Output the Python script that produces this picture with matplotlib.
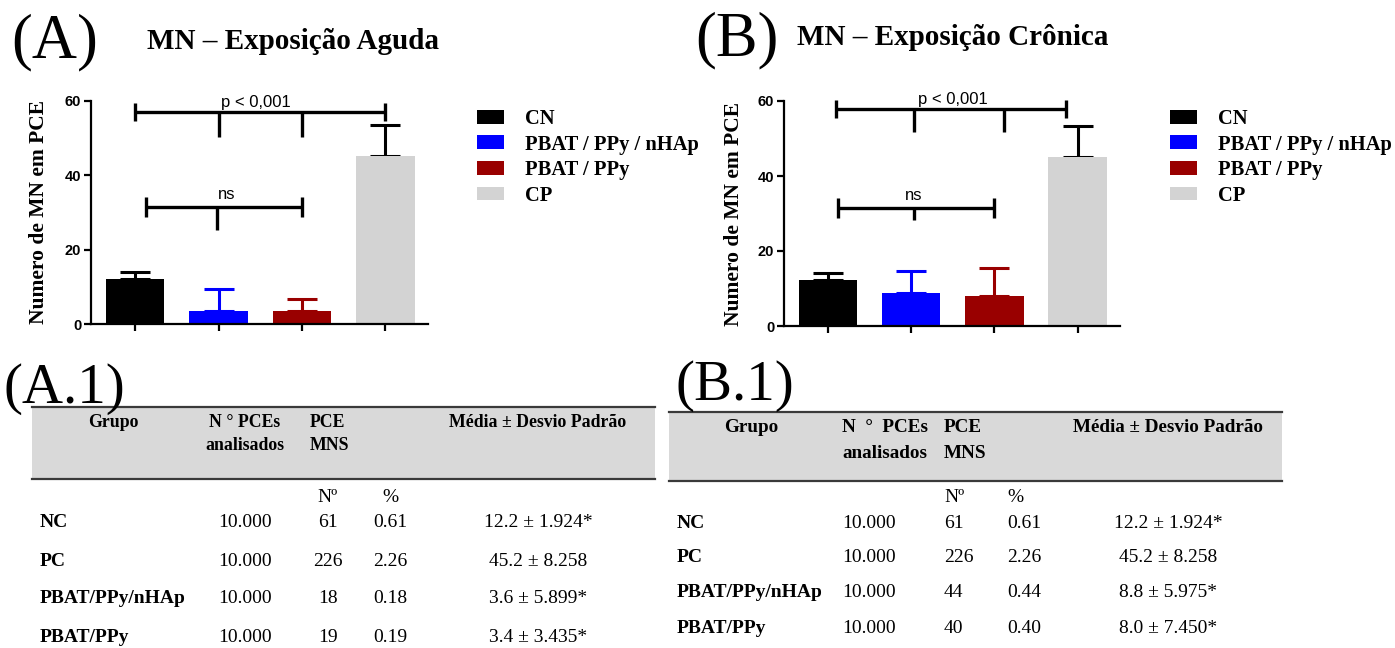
import matplotlib
matplotlib.use("Agg")
import matplotlib.pyplot as plt
from matplotlib.patches import Rectangle
from matplotlib.lines import Line2D
import numpy as np

# ---------------- data ----------------
bar_labels = ["CN", "PBAT / PPy / nHAp", "PBAT / PPy", "CP"]
bar_colors = ["#000000", "#0000FF", "#990000", "#D3D3D3"]
err_colors = ["#000000", "#0000FF", "#990000", "#000000"]

acute_means = [12.2, 3.6, 3.4, 45.2]
acute_sd = [1.924, 5.899, 3.435, 8.258]
chronic_means = [12.2, 8.8, 8.0, 45.2]
chronic_sd = [1.924, 5.975, 7.450, 8.258]

table_groups = ["NC", "PC", "PBAT/PPy/nHAp", "PBAT/PPy"]
table_n = ["10.000", "10.000", "10.000", "10.000"]
acute_counts = [61, 226, 18, 19]
acute_pct = ["0.61", "2.26", "0.18", "0.19"]
acute_tmean = [12.2, 45.2, 3.6, 3.4]
acute_tsd = [1.924, 8.258, 5.899, 3.435]
chronic_counts = [61, 226, 44, 40]
chronic_pct = ["0.61", "2.26", "0.44", "0.40"]
chronic_tmean = [12.2, 45.2, 8.8, 8.0]
chronic_tsd = [1.924, 8.258, 5.975, 7.450]
star = [True, False, True, True]

W, H = 1395, 648
fig = plt.figure(figsize=(W / 100, H / 100), dpi=100)
fig.patch.set_facecolor("white")

SERIF = "Liberation Serif"
SANS = "Liberation Sans"


def px(x):
    return x / W


def py(y):
    return 1 - y / H


def make_chart(rect, means, sds, top_br, ns_br, ylab_x):
    ax = fig.add_axes(rect)
    x = np.arange(len(means))
    for i in range(len(means)):
        ax.errorbar([x[i]], [means[i]], yerr=[[0], [sds[i]]], fmt="none",
                    ecolor=err_colors[i], elinewidth=2.2, capsize=10.5,
                    capthick=2.2, zorder=1)
    bars = ax.bar(x, means, width=0.7, color=bar_colors, zorder=2)
    ax.set_xlim(-0.53, 3.51)
    ax.set_ylim(0, 60)
    ax.set_yticks([0, 20, 40, 60])
    ax.set_xticks(x)
    ax.set_xticklabels([])
    for s in ["top", "right"]:
        ax.spines[s].set_visible(False)
    for s in ["left", "bottom"]:
        ax.spines[s].set_linewidth(1.6)
    ax.tick_params(axis="both", width=1.6, length=5, pad=2)
    for lab in ax.get_yticklabels():
        lab.set_fontfamily(SANS)
        lab.set_fontweight("bold")
        lab.set_fontsize(10.5)
    ax.set_ylabel("Numero de MN em PCE", fontfamily=SERIF, fontweight="bold",
                  fontsize=15.5)
    ax.yaxis.set_label_coords(ylab_x, 0.5)

    lw = 2.4
    # top bracket
    x0, x1, y, d, mids, mlow, tx = top_br
    kw = dict(color="black", lw=lw, clip_on=False, solid_capstyle="butt")
    ax.plot([x0, x1], [y, y], **kw)
    ax.plot([x0, x0], [y - d, y + d], **kw)
    ax.plot([x1, x1], [y - d, y + d], **kw)
    for m in mids:
        ax.plot([m, m], [mlow, y], **kw)
    ax.text(tx, y + 0.6, "p < 0,001", ha="center", va="bottom",
            fontfamily=SANS, fontsize=12)
    # ns bracket
    x0, x1, y, d, m, mlow, tx = ns_br
    ax.plot([x0, x1], [y, y], **kw)
    ax.plot([x0, x0], [y - d, y + d], **kw)
    ax.plot([x1, x1], [y - d, y + d], **kw)
    ax.plot([m, m], [mlow, y], **kw)
    ax.text(tx, y + 1.2, "ns", ha="center", va="bottom",
            fontfamily=SANS, fontsize=12)
    return ax, bars


axA, barsA = make_chart([px(91), py(324), px(428) - px(91), py(101) - py(324)],
                        acute_means, acute_sd,
                        (0.0, 3.0, 57.0, 2.5, [1.0, 2.0], 50.3, 1.45),
                        (0.13, 2.0, 31.5, 2.7, 0.98, 25.3, 1.1), -0.125)
axB, barsB = make_chart([px(784), py(326), px(1120) - px(784), py(101) - py(326)],
                        chronic_means, chronic_sd,
                        (0.1, 2.86, 57.9, 2.5, [1.03, 2.11], 51.7, 1.5),
                        (0.12, 1.99, 31.5, 2.7, 1.03, 28.4, 1.03), -0.119)

leg_font = dict(family=SERIF, weight="bold", size=14.8)
for bars, lx in [(barsA, 477), (barsB, 1170)]:
    fig.legend(list(bars.patches), bar_labels, loc="upper left",
               bbox_to_anchor=(px(lx), py(109)), frameon=False, borderpad=0,
               borderaxespad=0, handlelength=1.3, handleheight=0.65,
               handletextpad=1.05, labelspacing=0.27, prop=leg_font)

# panel letters and titles
fig.text(px(55), py(57), "(A)", ha="center", va="baseline", fontfamily=SERIF,
         fontsize=45)
fig.text(px(147), py(49), "MN – Exposição Aguda", ha="left", va="baseline",
         fontfamily=SERIF, fontweight="bold", fontsize=21)
fig.text(px(737), py(55), "(B)", ha="center", va="baseline", fontfamily=SERIF,
         fontsize=45)
fig.text(px(797), py(45), "MN – Exposição Crônica", ha="left", va="baseline",
         fontfamily=SERIF, fontweight="bold", fontsize=21)


def make_table(label, lab_x, lab_base, gx0, gx1, gy0, gy1, hb1, hb2, nb, row_base,
               cols, counts, pct, tmean, tsd, hsize):
    fig.text(px(lab_x), py(lab_base), label, ha="left", va="baseline",
             fontfamily=SERIF, fontsize=41, zorder=5)
    fig.patches.append(Rectangle((px(gx0), py(gy1)), px(gx1) - px(gx0),
                                 py(gy0) - py(gy1), transform=fig.transFigure,
                                 facecolor="#D9D9D9", edgecolor="none", zorder=0))
    for yy in (gy0, gy1):
        fig.lines.append(Line2D([px(gx0), px(gx1)], [py(yy), py(yy)],
                                transform=fig.transFigure, color="#3a3a3a",
                                lw=1.6))
    hk = dict(fontfamily=SERIF, fontweight="bold", fontsize=hsize, va="baseline")
    gx, nx, nha, cx, cha, px_, pha, mx = cols
    fig.text(px(gx[1]), py(hb1), "Grupo", ha="center", **hk)
    fig.text(px(nx), py(hb1), nha[0], ha=nha[1], **hk)
    fig.text(px(nx), py(hb2), "analisados", ha=nha[1], **hk)
    fig.text(px(cx[0]), py(hb1), "PCE", ha="left", **hk)
    fig.text(px(cx[0]), py(hb2), "MNS", ha="left", **hk)
    fig.text(px(mx), py(hb1), "Média ± Desvio Padrão", ha="center", **hk)
    rk = dict(fontfamily=SERIF, fontsize=14, va="baseline")
    fig.text(px(cx[1]), py(nb), "Nº", ha=cha, **rk)
    fig.text(px(px_), py(nb), "%", ha=pha, **rk)
    for i, g in enumerate(table_groups):
        b = row_base[i]
        fig.text(px(gx[0]), py(b), g, ha="left", fontweight="bold", **rk)
        fig.text(px(nx), py(b), table_n[i], ha=nha[1], **rk)
        fig.text(px(cx[1]), py(b), str(counts[i]), ha=cha, **rk)
        fig.text(px(px_), py(b), pct[i], ha=pha, **rk)
        fig.text(px(mx), py(b), f"{tmean[i]:.1f} ± {tsd[i]:.3f}" + ("*" if star[i] else ""),
                 ha="center", **rk)


make_table("(A.1)", 4, 403, 32, 655, 407, 479, 427, 450, 502,
           [527, 566, 603, 642],
           ((40, 113), 245, ("N ° PCEs", "center"), (310, 328), "center", 390,
            "center", 538),
           acute_counts, acute_pct, acute_tmean, acute_tsd, 12.8)
make_table("(B.1)", 675, 400, 669, 1282, 412, 481, 432, 458, 502,
           [528, 562, 597, 633],
           ((677, 751), 842, ("N  °  PCEs", "left"), (944, 944), "left", 1007,
            "left", 1168),
           chronic_counts, chronic_pct, chronic_tmean, chronic_tsd, 13.8)

fig.savefig("out.png", dpi=100)
